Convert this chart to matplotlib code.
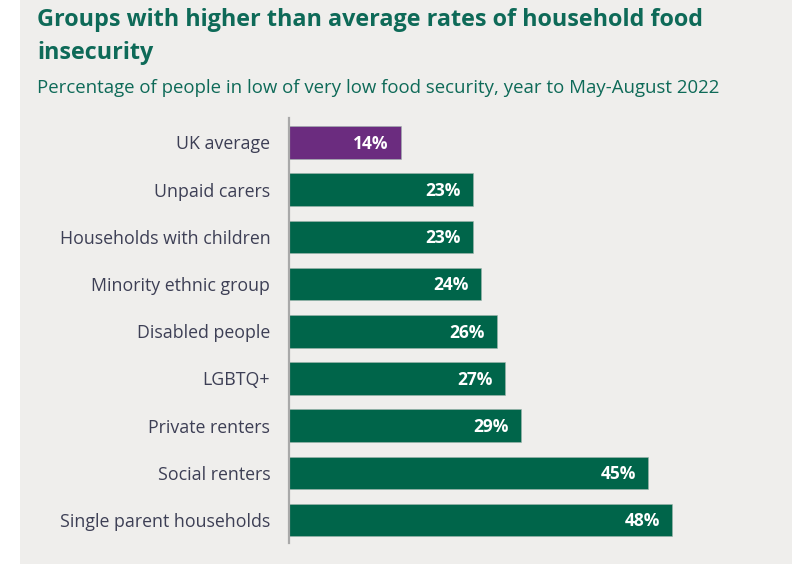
import matplotlib
matplotlib.use("Agg")
import matplotlib.pyplot as plt
from matplotlib.patches import Rectangle

groups = [
    "UK average",
    "Unpaid carers",
    "Households with children",
    "Minority ethnic group",
    "Disabled people",
    "LGBTQ+",
    "Private renters",
    "Social renters",
    "Single parent households",
]
values = [14, 23, 23, 24, 26, 27, 29, 45, 48]

bg = "#efeeec"
green = "#00654a"
purple = "#6b2c7f"
title_col = "#0e6a58"
label_col = "#3d3f55"

W, H = 792, 564
fig = plt.figure(figsize=(W / 100, H / 100), dpi=100)
fig.patch.set_facecolor("white")
fig.patches.append(Rectangle((20 / W, 0), 1 - 20 / W, 1, transform=fig.transFigure,
                             facecolor=bg, edgecolor="none", zorder=-10))

ax = fig.add_axes([289 / W, 1 - 543 / H, (780 - 289) / W, (543 - 118) / H])
ax.set_facecolor("none")

colors = [purple] + [green] * (len(values) - 1)
ypos = list(range(len(values)))
ax.barh(ypos, values, height=0.69, color=colors, edgecolor="#9fb5ac", linewidth=0.4)

for y, v in zip(ypos, values):
    ax.text(v - 1.5, y + 0.03, f"{v}%", ha="right", va="center", color="white",
            fontsize=12.5, fontweight="bold", family="Open Sans")

ax.set_xlim(0, 61.5)
ax.set_ylim(8 + 0.487, -0.519)
ax.set_yticks(ypos)
ax.set_yticklabels(groups, family="Open Sans", fontsize=12.8, color=label_col)
ax.tick_params(axis="y", length=0, pad=13.5)
ax.set_xticks([])
for s in ["top", "right", "bottom"]:
    ax.spines[s].set_visible(False)
ax.spines["left"].set_color("#a9a9a9")
ax.spines["left"].set_linewidth(1.6)

fig.text(37 / W, 1 - 20 / H, "Groups with higher than average rates of household food",
         ha="left", va="center", fontsize=16.8, fontweight="bold", color=title_col,
         family="Open Sans")
fig.text(37 / W, 1 - 53 / H, "insecurity",
         ha="left", va="center", fontsize=16.8, fontweight="bold", color=title_col,
         family="Open Sans")
fig.text(37 / W, 1 - 88 / H,
         "Percentage of people in low of very low food security, year to May-August 2022",
         ha="left", va="center", fontsize=13.4, color=title_col, family="Open Sans")

fig.savefig("out.png", dpi=100, facecolor=fig.get_facecolor())
